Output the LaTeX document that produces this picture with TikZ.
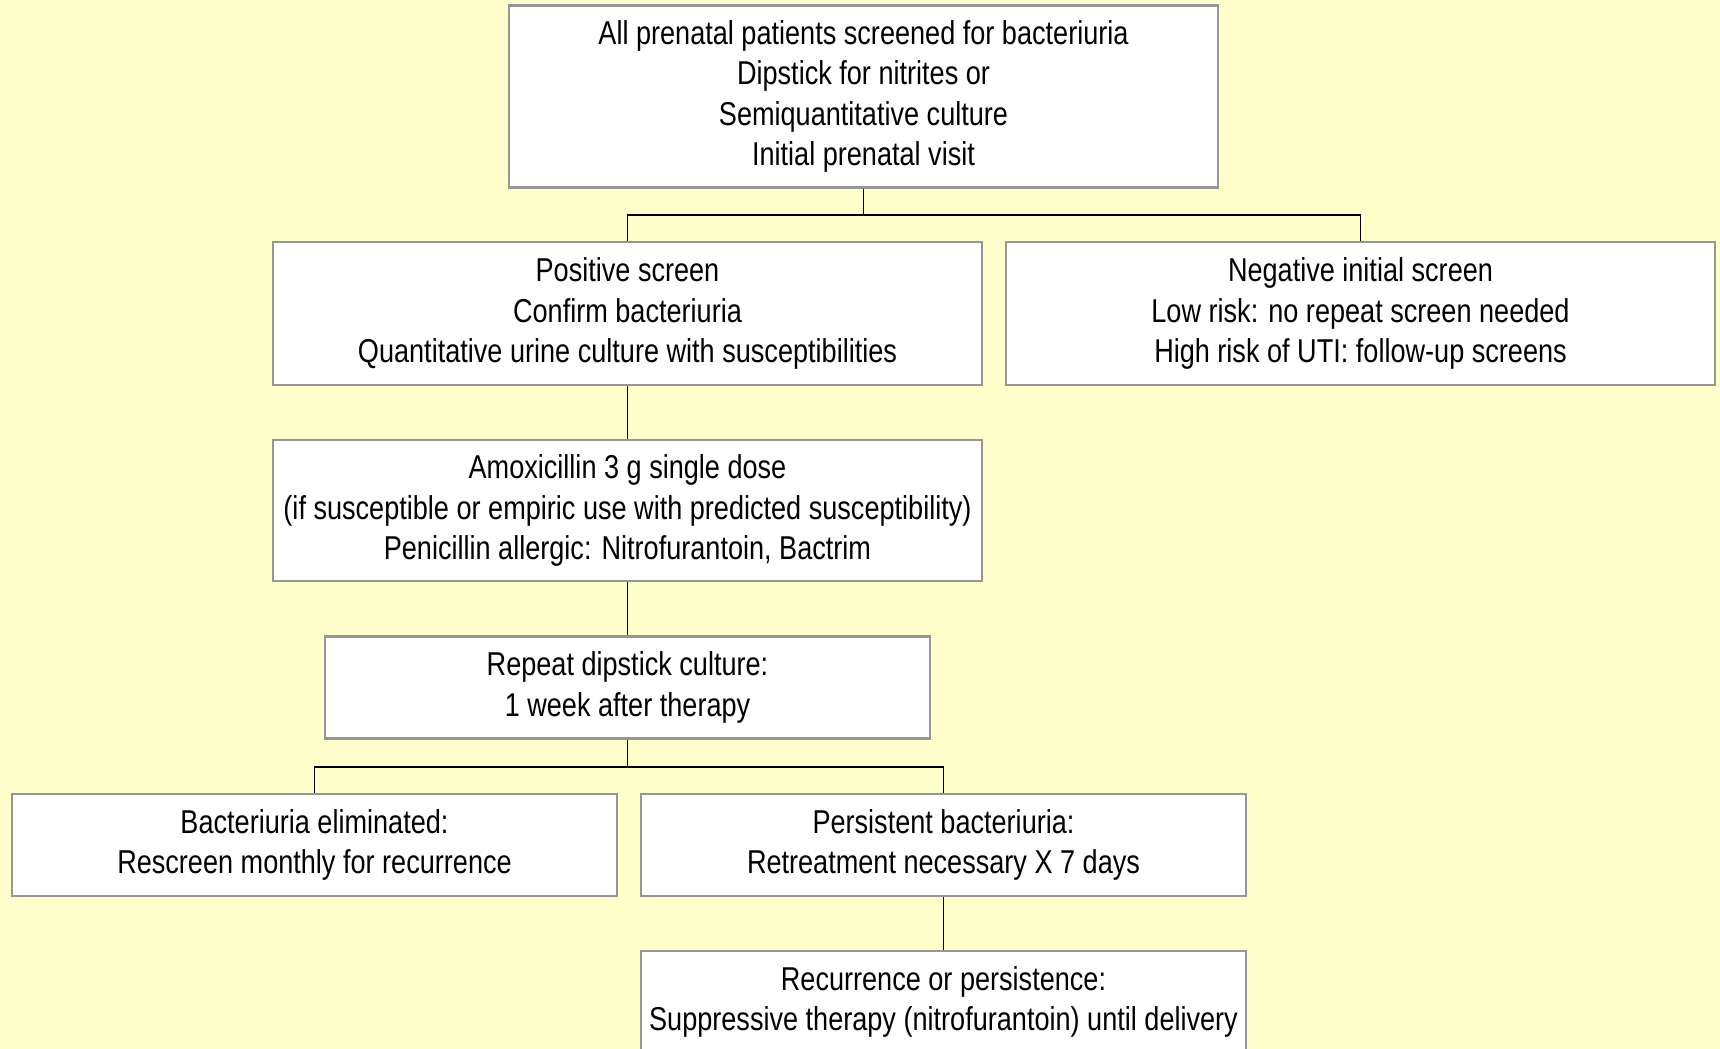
\documentclass[tikz,border=0pt]{standalone}
\usepackage{fontspec}
\setmainfont{Liberation Sans}[FakeStretch=0.82]
\usepackage{tikz}
\usetikzlibrary{positioning}
\definecolor{paleyellow}{RGB}{255,255,204}
\definecolor{boxgray}{RGB}{150,150,150}
\tikzset{
  stepbox/.style={draw=boxgray, line width=0.6pt, fill=white,
                  inner sep=0pt, align=center,
                  font=\fontsize{9.4}{11.4}\selectfont},
  widebox/.style={stepbox, minimum width=70.9mm},
  narrowbox/.style={stepbox, minimum width=60.5mm, minimum height=10.2mm},
  link/.style={black, line width=0.55pt},
}
\begin{document}
\begin{tikzpicture}[x=1cm,y=1cm]
  \fill[paleyellow] (0,0) rectangle (17.2,10.49);
  \useasboundingbox (0,0) rectangle (17.2,10.49);

  % screening
  \node[widebox, minimum height=18.2mm] (screen) at (8.635,9.525)
    {All prenatal patients screened for bacteriuria\\Dipstick for nitrites or\\Semiquantitative culture\\Initial prenatal visit};
  \node[widebox, minimum height=14.3mm] (positive) at (6.275,7.355)
    {Positive screen\\Confirm bacteriuria\\Quantitative urine culture with susceptibilities};
  \node[widebox, minimum height=14.3mm] (negative) at (13.605,7.355)
    {Negative initial screen\\Low risk: no repeat screen needed\\High risk of UTI: follow-up screens};

  % treatment
  \node[widebox, minimum height=14.1mm] (amox) at (6.275,5.385)
    {Amoxicillin 3 g single dose\\(if susceptible or empiric use with predicted susceptibility)\\Penicillin allergic: Nitrofurantoin, Bactrim};
  \node[narrowbox] (repeat) at (6.275,3.615)
    {Repeat dipstick culture:\\1 week after therapy};

  % outcomes
  \node[narrowbox] (cleared) at (3.145,2.04)
    {Bacteriuria eliminated:\\Rescreen monthly for recurrence};
  \node[narrowbox] (persist) at (9.435,2.04)
    {Persistent bacteriuria:\\Retreatment necessary X 7 days};
  \node[narrowbox] (suppress) at (9.435,0.47)
    {Recurrence or persistence:\\Suppressive therapy (nitrofurantoin) until delivery};

  \coordinate (split1) at (screen.south |- 0,8.34);
  \coordinate (split2) at (repeat.south |- 0,2.82);
  \draw[link] (screen.south) -- (split1);
  \draw[link] (positive.north) |- (split1) -| (negative.north);
  \draw[link] (positive.south) -- (amox.north);
  \draw[link] (amox.south) -- (repeat.north);
  \draw[link] (repeat.south) -- (split2);
  \draw[link] (cleared.north) |- (split2) -| (persist.north);
  \draw[link] (persist.south) -- (suppress.north);
\end{tikzpicture}
\end{document}
